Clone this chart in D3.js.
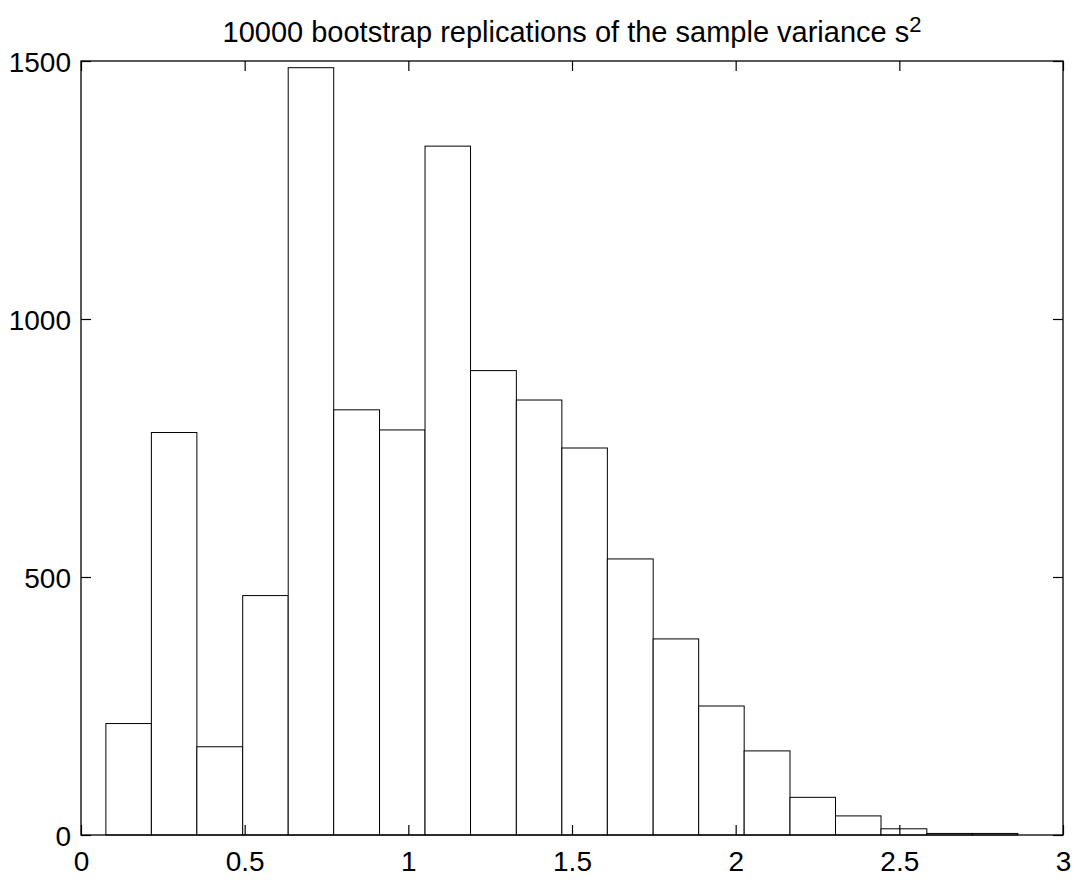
<!DOCTYPE html>
<html>
<head>
<meta charset="utf-8">
<script src="https://cdn.jsdelivr.net/npm/d3@7"></script>
<style>
  body { margin: 0; background: #fff; }
  svg { display: block; font-family: "Liberation Sans", Arial, sans-serif; }
</style>
</head>
<body>
<svg id="chart" width="1079" height="881"></svg>
<script>
// histogram bins
const binEdges = [0.076, 0.215, 0.354, 0.494, 0.633, 0.772, 0.912, 1.051, 1.190, 1.330,
                  1.469, 1.608, 1.748, 1.887, 2.026, 2.166, 2.305, 2.444, 2.584, 2.723, 2.862];
const counts = [216, 780, 171, 464, 1487, 824, 785, 1335, 900, 843,
                750, 535, 380, 250, 163, 73, 37, 12, 3, 3];
const xTicks = [0, 0.5, 1, 1.5, 2, 2.5, 3];
const yTicks = [0, 500, 1000, 1500];
const titleText = "10000 bootstrap replications of the sample variance s";
const titleSup = "2";

const svg = d3.select("#chart");
const margin = { left: 81, right: 16, top: 61, bottom: 46 };
const W = +svg.attr("width"), H = +svg.attr("height");

const x = d3.scaleLinear().domain([0, 3]).range([margin.left, W - margin.right]);
const y = d3.scaleLinear().domain([0, 1500]).range([H - margin.bottom, margin.top]);

const bins = counts.map((c, i) => ({ x0: binEdges[i], x1: binEdges[i + 1], n: c }));

// bars
svg.append("g")
  .selectAll("rect")
  .data(bins)
  .join("rect")
    .attr("x", d => x(d.x0))
    .attr("y", d => y(d.n))
    .attr("width", d => x(d.x1) - x(d.x0))
    .attr("height", d => y(0) - y(d.n))
    .attr("fill", "#fff")
    .attr("stroke", "#000")
    .attr("stroke-width", 1);

const tickLen = 10;
const fs = 28;
const fmt = d3.format("");

// axes with inward ticks on all sides
const axBottom = svg.append("g").attr("transform", `translate(0,${y(0)})`)
  .call(d3.axisBottom(x).tickValues(xTicks).tickSize(-tickLen).tickPadding(16).tickFormat(fmt));
const axTop = svg.append("g").attr("transform", `translate(0,${y(1500)})`)
  .call(d3.axisTop(x).tickValues(xTicks).tickSize(-tickLen).tickFormat(""));
const axLeft = svg.append("g").attr("transform", `translate(${x(0)},0)`)
  .call(d3.axisLeft(y).tickValues(yTicks).tickSize(-tickLen).tickPadding(10).tickFormat(fmt));
const axRight = svg.append("g").attr("transform", `translate(${x(3)},0)`)
  .call(d3.axisRight(y).tickValues(yTicks).tickSize(-tickLen).tickFormat(""));

[axBottom, axTop, axLeft, axRight].forEach(g => {
  g.attr("font-size", fs).attr("font-family", "'Liberation Sans', Arial, sans-serif");
  g.select(".domain").remove();
  g.selectAll(".tick line").attr("stroke", "#000").attr("stroke-width", 1.2);
  g.selectAll("text").attr("fill", "#000");
});
axLeft.selectAll("text").attr("dy", "0.36em");

// frame
svg.append("rect")
  .attr("x", x(0)).attr("y", y(1500))
  .attr("width", x(3) - x(0)).attr("height", y(0) - y(1500))
  .attr("fill", "none").attr("stroke", "#000").attr("stroke-width", 1.3);

// title
const title = svg.append("text")
  .attr("x", (x(0) + x(3)) / 2)
  .attr("y", 42)
  .attr("text-anchor", "middle")
  .attr("font-size", 29)
  .attr("fill", "#000")
  .text(titleText);
title.append("tspan")
  .attr("dy", "-0.45em")
  .attr("font-size", 22)
  .text(titleSup);
</script>
</body>
</html>
